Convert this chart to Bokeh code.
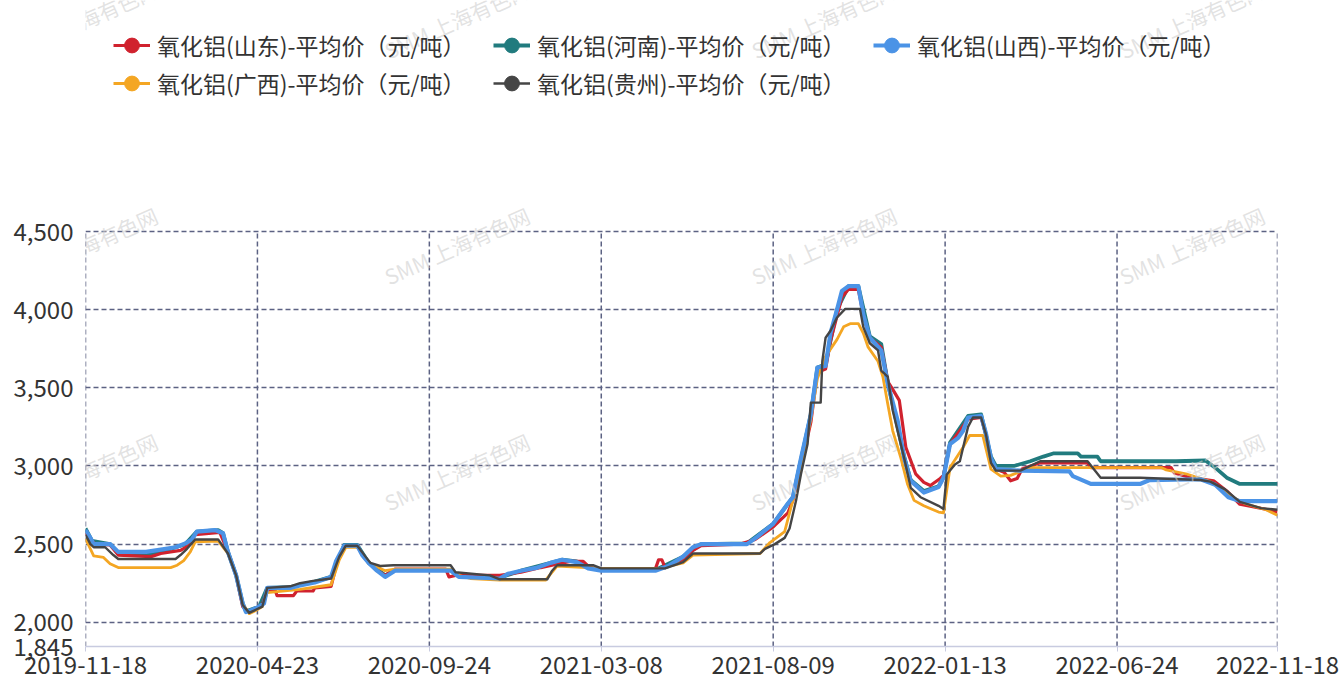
from bokeh.plotting import figure
from bokeh.models import (Range1d, FixedTicker, NumeralTickFormatter, Legend, LegendItem,
                          ColumnDataSource, Label)
from bokeh.embed import file_html
from bokeh.resources import INLINE

FONT = "Noto Sans CJK SC"

# trading-day index of each labelled date on the category axis
tick_days = [0, 105, 210, 315, 420, 525, 630, 728]
tick_dates = ["2019-11-18", "2020-04-23", "2020-09-24", "2021-03-08",
              "2021-08-09", "2022-01-13", "2022-06-24", "2022-11-18"]
y_min, y_max = 1845, 4500
y_ticks = [1845, 2000, 2500, 3000, 3500, 4000, 4500]

# 氧化铝(山东) average price, yuan/ton
sd_days = [0, 3, 6, 15, 20, 40, 46, 58, 63, 67, 82, 87, 92, 96, 100, 104, 108, 111, 116, 117,
           127, 129, 139, 140, 150, 154, 158, 166, 169, 173, 178, 183, 189, 220, 222, 226, 253,
           266, 278, 287, 296, 304, 308, 315, 348, 350, 352, 354, 365, 371, 376, 400, 409, 420,
           429, 432, 437, 443, 447, 452, 455, 459, 462, 466, 472, 475, 479, 486, 490, 493, 497,
           501, 507, 512, 516, 522, 524, 528, 539, 547, 550, 553, 556, 561, 565, 569, 572, 583,
           612, 614, 663, 665, 675, 689, 697, 705, 720, 728]
sd_price = [2570, 2530, 2500, 2495, 2430, 2420, 2440, 2460, 2490, 2560, 2575, 2450, 2300, 2100,
            2065, 2090, 2110, 2210, 2200, 2170, 2170, 2200, 2200, 2220, 2230, 2400, 2490, 2490,
            2430, 2380, 2330, 2300, 2340, 2340, 2290, 2300, 2300, 2320, 2350, 2370, 2390, 2390,
            2350, 2340, 2340, 2400, 2400, 2350, 2400, 2460, 2490, 2500, 2530, 2610, 2700, 2780,
            3000, 3280, 3600, 3620, 3800, 3960, 4080, 4130, 4130, 3970, 3820, 3760, 3540, 3490,
            3420, 3120, 2950, 2895, 2875, 2920, 2940, 3140, 3300, 3310, 3200, 3040, 2980, 2960,
            2905, 2920, 2980, 3020, 3020, 2990, 2990, 2955, 2925, 2905, 2840, 2755, 2725, 2705]

# 氧化铝(河南)
hn_days = [0, 4, 15, 20, 40, 49, 61, 68, 81, 84, 87, 92, 96, 98, 106, 111, 125, 140, 150, 158,
           166, 173, 183, 189, 223, 228, 253, 266, 284, 291, 300, 307, 315, 348, 365, 376, 404,
           420, 432, 443, 447, 452, 459, 466, 472, 479, 486, 490, 500, 504, 512, 521, 524, 528,
           539, 547, 553, 556, 567, 577, 585, 591, 606, 608, 618, 620, 666, 684, 691, 697, 705,
           728]
hn_price = [2600, 2520, 2500, 2445, 2440, 2460, 2500, 2580, 2590, 2570, 2450, 2300, 2120, 2070,
            2100, 2220, 2225, 2260, 2290, 2495, 2495, 2380, 2300, 2335, 2335, 2295, 2285, 2330,
            2380, 2400, 2390, 2350, 2335, 2335, 2420, 2500, 2505, 2630, 2800, 3330, 3630, 3650,
            4000, 4150, 4150, 3830, 3780, 3530, 3060, 2910, 2840, 2870, 2930, 3150, 3320, 3330,
            3060, 3000, 3000, 3030, 3060, 3080, 3080, 3060, 3060, 3030, 3030, 3035, 2980, 2925,
            2885, 2885]

# 氧化铝(山西)
sx_days = [0, 3, 5, 15, 20, 37, 46, 55, 61, 65, 68, 79, 84, 87, 92, 96, 98, 102, 106, 109, 111,
           125, 131, 140, 150, 153, 158, 166, 169, 173, 178, 183, 189, 223, 228, 253, 258, 266,
           276, 284, 291, 300, 307, 315, 348, 356, 365, 371, 376, 404, 410, 420, 429, 432, 437,
           443, 447, 452, 455, 459, 462, 466, 472, 475, 479, 486, 490, 496, 500, 504, 512, 521,
           524, 528, 533, 536, 539, 547, 550, 553, 556, 571, 601, 603, 614, 644, 650, 681, 690,
           698, 705, 728]
sx_price = [2590, 2540, 2500, 2500, 2450, 2450, 2465, 2480, 2505, 2530, 2580, 2590, 2570, 2450,
            2300, 2120, 2065, 2080, 2100, 2120, 2220, 2220, 2235, 2255, 2290, 2390, 2490, 2490,
            2430, 2380, 2330, 2290, 2330, 2330, 2290, 2280, 2310, 2330, 2350, 2380, 2400, 2385,
            2345, 2330, 2330, 2360, 2420, 2480, 2500, 2500, 2545, 2630, 2760, 2800, 3050, 3330,
            3630, 3640, 3850, 4000, 4120, 4150, 4150, 3970, 3820, 3740, 3525, 3290, 3050, 2905,
            2830, 2865, 2925, 3140, 3180, 3225, 3310, 3320, 3205, 3050, 2980, 2970, 2965, 2935,
            2885, 2885, 2910, 2915, 2880, 2800, 2775, 2775]

# 氧化铝(广西)
gx_days = [0, 5, 11, 15, 20, 52, 56, 60, 64, 67, 81, 87, 92, 96, 100, 104, 108, 111, 131, 150,
           155, 159, 166, 171, 175, 183, 189, 223, 228, 235, 253, 281, 288, 315, 351, 365, 371,
           412, 418, 427, 432, 437, 443, 447, 452, 459, 463, 467, 472, 475, 478, 484, 487, 490,
           493, 498, 502, 506, 512, 521, 524, 528, 536, 540, 548, 553, 559, 565, 577, 657, 660,
           672, 687, 699, 708, 721, 728]
gx_price = [2535, 2425, 2415, 2375, 2350, 2350, 2365, 2395, 2450, 2515, 2520, 2440, 2300, 2120,
            2055, 2075, 2100, 2190, 2210, 2240, 2400, 2480, 2480, 2410, 2370, 2330, 2340, 2340,
            2300, 2280, 2270, 2270, 2360, 2345, 2345, 2380, 2430, 2440, 2510, 2580, 2780, 3000,
            3300, 3560, 3700, 3810, 3890, 3910, 3910, 3850, 3760, 3670, 3570, 3395, 3225, 3050,
            2885, 2780, 2745, 2705, 2700, 2990, 3120, 3195, 3195, 2980, 2935, 2940, 2990, 2990,
            2975, 2950, 2900, 2810, 2760, 2720, 2685]

# 氧化铝(贵州)
gz_days = [0, 3, 5, 12, 17, 20, 55, 58, 62, 67, 81, 87, 92, 96, 100, 104, 108, 111, 125, 131,
           139, 150, 155, 159, 166, 171, 174, 180, 188, 223, 226, 247, 253, 282, 285, 288, 310,
           315, 354, 365, 371, 412, 415, 421, 427, 430, 434, 437, 441, 443, 449, 450, 452, 455,
           459, 464, 473, 475, 479, 484, 486, 490, 493, 500, 504, 510, 521, 524, 526, 531, 534,
           539, 542, 547, 550, 553, 556, 571, 577, 583, 612, 620, 644, 681, 687, 696, 705, 718,
           728]
gz_price = [2560, 2500, 2480, 2480, 2430, 2405, 2405, 2430, 2470, 2530, 2530, 2440, 2300, 2110,
            2060, 2080, 2100, 2220, 2230, 2250, 2265, 2280, 2420, 2490, 2490, 2420, 2380, 2360,
            2365, 2365, 2320, 2300, 2275, 2275, 2330, 2365, 2365, 2345, 2345, 2385, 2440, 2440,
            2470, 2500, 2540, 2600, 2780, 2950, 3140, 3405, 3405, 3670, 3820, 3865, 3950, 4005,
            4005, 3890, 3785, 3740, 3610, 3570, 3355, 3050, 2860, 2800, 2745, 2725, 2945, 3010,
            3030, 3250, 3310, 3310, 3200, 3020, 2970, 2970, 3000, 3030, 3030, 2925, 2925, 2910,
            2900, 2850, 2770, 2730, 2720]

series = {
    "sd": ("氧化铝(山东)-平均价（元/吨）", "#d0222e", 3.2, sd_days, sd_price),
    "hn": ("氧化铝(河南)-平均价（元/吨）", "#217b7e", 3.8, hn_days, hn_price),
    "sx": ("氧化铝(山西)-平均价（元/吨）", "#4b93e6", 4.2, sx_days, sx_price),
    "gx": ("氧化铝(广西)-平均价（元/吨）", "#f4a623", 2.8, gx_days, gx_price),
    "gz": ("氧化铝(贵州)-平均价（元/吨）", "#454545", 2.4, gz_days, gz_price),
}
draw_order = ["hn", "sd", "gx", "sx", "gz"]
legend_order = ["sd", "hn", "sx", "gx", "gz"]

# Layout in pixels: the frame runs from the canvas top down to the x axis, so the
# legend and watermark tiles can sit inside it; the value axis stops at y_max.
W, H = 1343, 683
LEFT, RIGHT, BOTTOM = 85, 66, 37
PLOT_TOP = 231                      # pixel row of the y_max gridline
frame_h = H - BOTTOM
per_px = (y_max - y_min) / (frame_h - PLOT_TOP)
y_top = y_min + frame_h * per_px

p = figure(width=W, height=H, output_backend="svg", toolbar_location=None,
           x_range=Range1d(0, 728), y_range=Range1d(y_min, y_top),
           min_border_left=LEFT, min_border_right=RIGHT, min_border_top=0,
           min_border_bottom=BOTTOM)
p.outline_line_color = None
p.background_fill_color = "white"
p.border_fill_color = "white"

# watermark tiles
for ty in [51, 277, 503]:
    for tx in [13, 385, 752, 1120]:
        p.add_layout(Label(x=tx - LEFT, y=frame_h - ty, x_units="screen", y_units="screen",
                           text="SMM 上海有色网", angle=24, angle_units="deg",
                           text_font=FONT, text_font_size="21px", text_color="#cfcfcf",
                           text_alpha=0.6, text_baseline="alphabetic", text_align="left"))

# vertical grid at the labelled dates, limited to the value range
p.segment(x0=tick_days, y0=[y_min] * len(tick_days), x1=tick_days, y1=[y_max] * len(tick_days),
          line_color="#5c6283", line_width=1.5, line_dash="5 3")

lines = {}
dots = {}
nan = float("nan")
for key in draw_order:
    label, color, width, days, price = series[key]
    src = ColumnDataSource(dict(day=days, price=price))
    lines[key] = p.line("day", "price", source=src, line_color=color, line_width=width,
                        line_join="round")
    # legend-only marker (no visible point in the plot)
    dots[key] = p.scatter(x=[nan], y=[nan], marker="circle", size=15,
                          fill_color=color, line_color=color)

# axes
p.xaxis.ticker = FixedTicker(ticks=tick_days)
p.xaxis.major_label_overrides = {d: s for d, s in zip(tick_days, tick_dates)}
p.xaxis.axis_line_color = "#c8cbe0"
p.xaxis.axis_line_width = 1.5
p.xaxis.major_tick_line_color = "#c8cbe0"
p.xaxis.major_tick_out = 5
p.xaxis.major_tick_in = 0
p.xaxis.minor_tick_line_color = None
p.xaxis.major_label_standoff = 4

p.yaxis.ticker = FixedTicker(ticks=y_ticks)
p.yaxis.formatter = NumeralTickFormatter(format="0,0")
p.yaxis.axis_line_color = None
p.yaxis.major_tick_line_color = None
p.yaxis.major_tick_out = 0
p.yaxis.major_tick_in = 0
p.yaxis.minor_tick_line_color = None
p.yaxis.major_label_standoff = 12

for ax in (p.xaxis, p.yaxis):
    ax.major_label_text_font = FONT
    ax.major_label_text_font_size = "24px"
    ax.major_label_text_color = "#333333"

# horizontal grid
p.xgrid.visible = False
p.ygrid.ticker = FixedTicker(ticks=y_ticks[1:])
p.ygrid.grid_line_color = "#5c6283"
p.ygrid.grid_line_width = 1.5
p.ygrid.grid_line_dash = "5 3"

LEG_TOP, ROW_H = 26, 38
items = [LegendItem(label=series[k][0], renderers=[lines[k], dots[k]]) for k in legend_order]
legend = Legend(items=items, ncols=3, orientation="horizontal",
                location=(113 - LEFT, frame_h - LEG_TOP - 2 * ROW_H),
                spacing=0, padding=0, margin=0, border_line_color=None,
                background_fill_alpha=0, glyph_width=37, glyph_height=ROW_H,
                label_height=ROW_H, label_width=336, label_standoff=7,
                label_text_font=FONT, label_text_font_size="23px",
                label_text_color="#333333", label_text_baseline="middle")
p.add_layout(legend)

open("out.html", "w").write(file_html(p, INLINE))
